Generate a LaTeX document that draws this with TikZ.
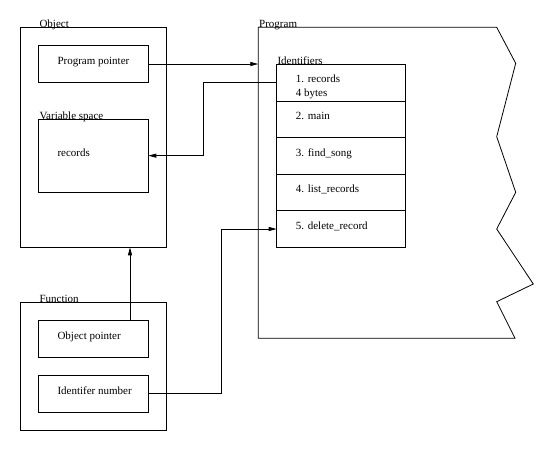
\documentclass[tikz,border=0pt]{standalone}
\usepackage{fontspec}
\setmainfont{Liberation Serif}
\usetikzlibrary{
    positioning, % rows of the identifier table
    arrows.meta  % arrow tips
}

\begin{document}
\begin{tikzpicture}[x=1pt, y=-1pt, font=\fontsize{11}{13}\selectfont]

    % --- Styles ---
    \tikzset{
        % large frames (Object, Function)
        outer_box/.style={
            draw,
            rectangle,
            line width=0.8pt,
            inner sep=0pt,
            outer sep=0pt,
            minimum width=146pt,
            anchor=north west
        },
        % boxes inside the frames
        inner_box/.style={
            draw,
            rectangle,
            line width=0.8pt,
            inner sep=0pt,
            outer sep=0pt,
            minimum width=110pt,
            minimum height=36.6pt,
            anchor=north west
        },
        % rows of the identifier table
        row_box/.style={
            draw,
            rectangle,
            line width=0.8pt,
            inner sep=0pt,
            outer sep=0pt,
            minimum width=128.6pt,
            minimum height=36.6pt
        },
        % titles sitting on the top edge of a box
        box_title/.style={anchor=base west, inner sep=0pt},
        % texts inside boxes
        box_text/.style={anchor=base west, inner sep=0pt},
        % connectors
        link_arrow/.style={
            -{Triangle[length=8pt,width=4pt]},
            line width=0.8pt
        }
    }

    \useasboundingbox (0,0) rectangle (554,451);

    % --- Object ---
    \node[outer_box, minimum height=220pt] (obj_box) at (20.7,27.3) {};
    \node[box_title] at ([xshift=18.6pt]obj_box.north west) {Object};

    \node[inner_box] (prog_ptr) at (38.3,45.7) {};
    \node[box_text] at ([xshift=19pt,yshift=-18.6pt]prog_ptr.north west) {Program pointer};

    \node[inner_box, minimum height=73.3pt] (var_box) at (38.3,119) {};
    \node[box_title] at ([xshift=1pt]var_box.north west) {Variable space};
    \node[box_text] at ([xshift=19pt,yshift=-37pt]var_box.north west) {records};

    % --- Function ---
    \node[outer_box, minimum height=127.7pt] (func_box) at (20.7,302.3) {};
    \node[box_title] at ([xshift=18.6pt]func_box.north west) {Function};

    \node[inner_box, minimum height=37pt] (obj_ptr) at (38.3,320) {};
    \node[box_text] at ([xshift=19pt,yshift=-19pt]obj_ptr.north west) {Object pointer};

    \node[inner_box, minimum height=37.3pt] (id_num) at (38.3,375) {};
    \node[box_text] at ([xshift=19pt,yshift=-19pt]id_num.north west) {Identifer number};

    % --- Program (torn-off page) ---
    \draw[line width=0.8pt] (258.3,27.3) coordinate (prog_nw)
        -- (496.7,27.3) -- (515.7,63.3) -- (496.7,136.7) -- (515.7,192.3)
        -- (496.7,229) -- (533.3,284) -- (496.7,301.7) -- (515,338.3)
        -- (258.3,338.3) -- cycle;
    \node[box_title] at ([xshift=0.7pt]prog_nw) {Program};

    % --- Identifier table ---
    \node[row_box, anchor=north west] (id1) at (276.7,64.3) {};
    \node[row_box, below=0pt of id1] (id2) {};
    \node[row_box, below=0pt of id2] (id3) {};
    \node[row_box, below=0pt of id3] (id4) {};
    \node[row_box, below=0pt of id4] (id5) {};
    \node[box_title] at ([xshift=0.6pt]id1.north west) {Identifiers};

    \node[box_text] at ([xshift=19pt,yshift=-18.5pt]id1.north west) {1. records};
    \node[box_text] at ([xshift=19pt,yshift=-32pt]id1.north west) {4 bytes};
    \node[box_text] at ([xshift=19pt,yshift=-18.5pt]id2.north west) {2. main};
    \node[box_text] at ([xshift=19pt,yshift=-18.5pt]id3.north west) {3. find\_song};
    \node[box_text] at ([xshift=19pt,yshift=-18.5pt]id4.north west) {4. list\_records};
    \node[box_text] at ([xshift=19pt,yshift=-18.5pt]id5.north west) {5. delete\_record};

    % --- Connectors ---
    \draw[link_arrow] (prog_ptr.east) -- (prog_ptr.east -| prog_nw);
    \draw[link_arrow] (id1.west) -- ++(-73.4,0) |- (var_box.east);
    \coordinate (obj_link) at ([xshift=36.7pt]obj_ptr.north);
    \draw[link_arrow] (obj_link) -- (obj_link |- obj_box.south);
    \draw[link_arrow] (id_num.east) -- ++(73.4,0) |- (id5.west);

\end{tikzpicture}
\end{document}
